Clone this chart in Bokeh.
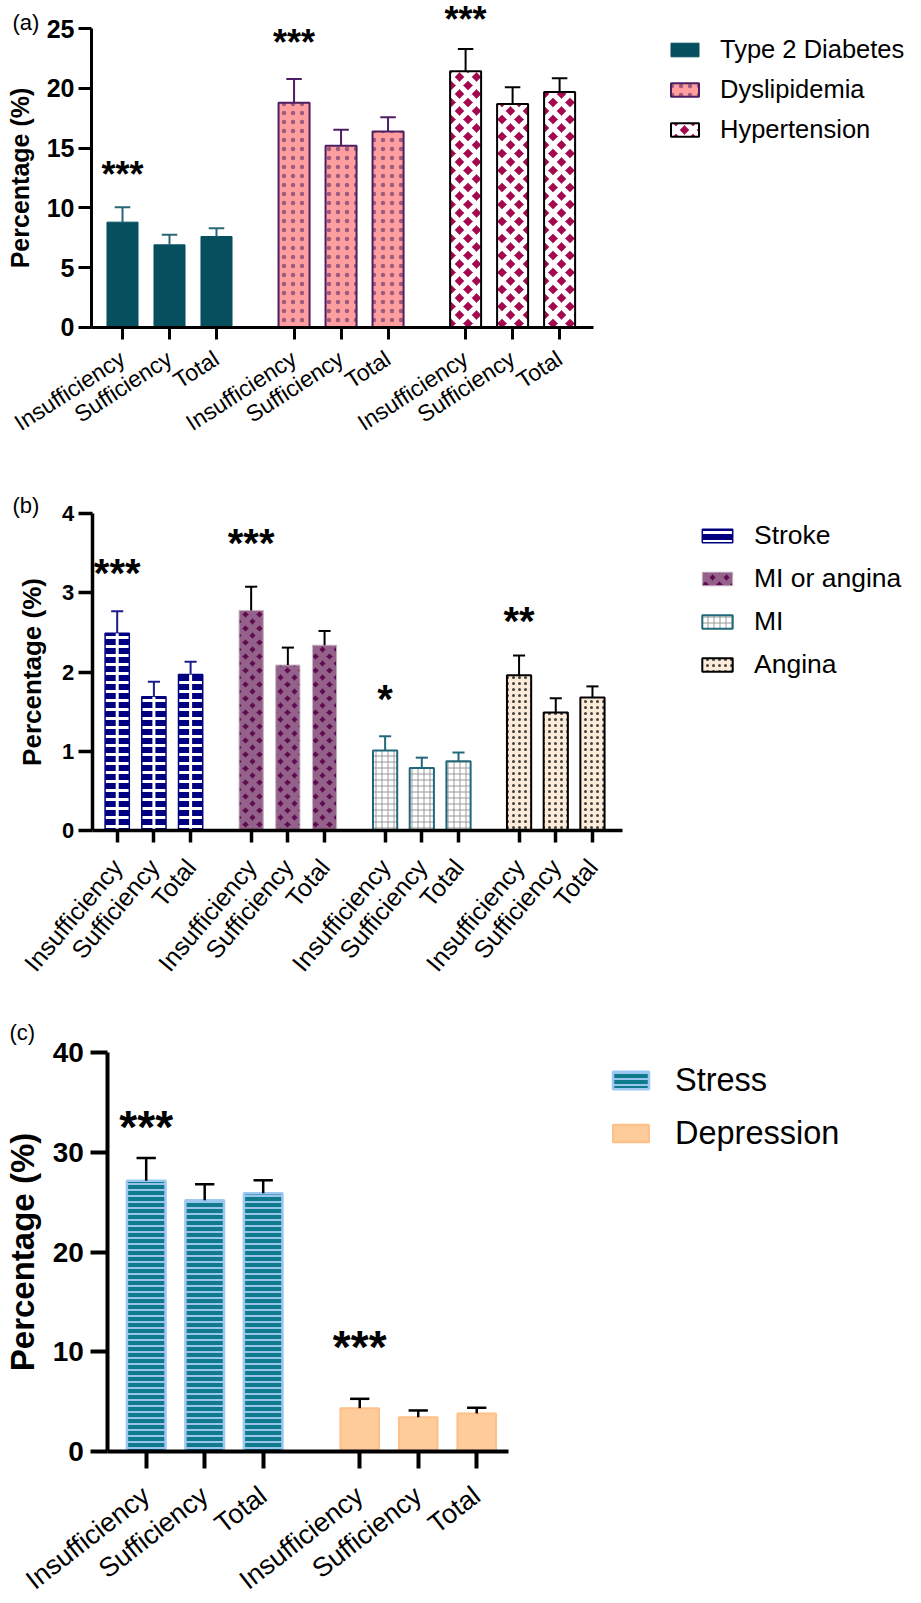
import math
from bokeh.plotting import figure
from bokeh.models import FixedTicker, Legend, LegendItem, Range1d, LinearAxis
from bokeh.layouts import column
from bokeh.embed import file_html
from bokeh.resources import INLINE
from bokeh.core.properties import value

FONT = "Liberation Sans"
LEVELS = ["Insufficiency", "Sufficiency", "Total"]

# ---------------- data: panel (a) ----------------
a_names = ["Type 2 Diabetes", "Dyslipidemia", "Hypertension"]
a_t2d = [8.8, 6.9, 7.6]
a_t2d_err = [1.25, 0.85, 0.70]
a_dys = [18.8, 15.2, 16.4]
a_dys_err = [2.0, 1.35, 1.2]
a_hyp = [21.45, 18.7, 19.7]
a_hyp_err = [1.85, 1.4, 1.15]
a_sig = ["***", "***", "***"]
a_sig_y = [13.1, 24.2, 26.1]
a_yticks = [0, 5, 10, 15, 20, 25]

# ---------------- data: panel (b) ----------------
b_names = ["Stroke", "MI or angina", "MI", "Angina"]
b_stroke = [2.49, 1.69, 1.97]
b_stroke_err = [0.28, 0.19, 0.16]
b_mia = [2.78, 2.09, 2.34]
b_mia_err = [0.30, 0.22, 0.18]
b_mi = [1.01, 0.79, 0.875]
b_mi_err = [0.18, 0.13, 0.11]
b_ang = [1.96, 1.49, 1.68]
b_ang_err = [0.25, 0.18, 0.14]
b_sig = ["***", "***", "*", "**"]
b_sig_y = [3.32, 3.70, 1.73, 2.71]
b_yticks = [0, 1, 2, 3, 4]

# ---------------- data: panel (c) ----------------
c_names = ["Stress", "Depression"]
c_stress = [27.15, 25.2, 25.9]
c_stress_err = [2.3, 1.6, 1.3]
c_dep = [4.32, 3.41, 3.79]
c_dep_err = [0.94, 0.68, 0.57]
c_sig = ["***", "***"]
c_sig_y = [33.2, 11.04]
c_yticks = [0, 10, 20, 30, 40]

# ---------------- styles ----------------
STYLE = {
    "Type 2 Diabetes": dict(fill_color="#064F5F", line_color="#064F5F", line_width=1, err="#2B6675"),
    "Dyslipidemia": dict(fill_color="#FF9E9E", line_color="#4E1E62", line_width=2,
                         hatch_pattern=".", hatch_color="#3B1A5A", hatch_scale=9, hatch_alpha=0.5,
                         err="#4E1E62"),
    "Hypertension": dict(fill_color="#A3084F", line_color="black", line_width=2,
                         hatch_pattern="x", hatch_color="white", hatch_scale=17, hatch_weight=5.2,
                         err="black"),
    "Stroke": dict(fill_color="#000080", line_color="#000080", line_width=1.5,
                   hatch_pattern="-", hatch_color="white", hatch_scale=9, hatch_weight=3,
                   err="#1B1B8C", center="white"),
    "MI or angina": dict(fill_color="#5E0B50", line_color="#CDBFCB", line_width=1,
                         hatch_pattern="x", hatch_color="#936189", hatch_scale=14, hatch_weight=5.5,
                         err="black"),
    "MI": dict(fill_color="white", line_color="#21697A", line_width=2,
               hatch_pattern="+", hatch_color="#9A9A9A", hatch_scale=6, hatch_weight=1,
               err="#21697A"),
    "Angina": dict(fill_color="#FCEBD9", line_color="black", line_width=2,
                   hatch_pattern=".", hatch_color="#222222", hatch_scale=6, hatch_alpha=0.85,
                   err="black"),
    "Stress": dict(fill_color="#0F7B8B", line_color="#9CC8F2", line_width=2.5,
                   hatch_pattern="-", hatch_color="#97C5F0", hatch_scale=6, hatch_weight=2,
                   err="black"),
    "Depression": dict(fill_color="#FECC9B", line_color="#FDC088", line_width=2, err="black"),
}

GROUP_STEP = 3.65
BAR_W = 0.66
W = 913


def build(tag, names, vals, errs, sig, sig_y, yticks, geo):
    h = geo["h"]
    xpx, ypx = geo["xpx"], geo["ypx"]
    x_start = -geo["tick0"] / xpx
    x_end = x_start + W / xpx
    y_end = geo["y0"] / ypx
    y_start = -(h - geo["y0"]) / ypx
    yax_loc = (geo["yax"] - geo["tick0"]) / xpx

    p = figure(width=W, height=h, output_backend="svg", toolbar_location=None,
               x_range=Range1d(x_start, x_end), y_range=Range1d(y_start, y_end),
               x_axis_location=None, y_axis_location=None,
               min_border=0, min_border_left=0, min_border_right=0,
               min_border_top=0, min_border_bottom=0)
    p.grid.visible = False
    p.outline_line_color = None
    p.background_fill_color = "white"
    p.border_fill_color = "white"

    ticks = []
    overrides = {}
    items = []
    for g, name in enumerate(names):
        st = STYLE[name]
        xs = [g * GROUP_STEP + i for i in range(len(LEVELS))]
        for x, lab in zip(xs, LEVELS):
            overrides[x] = lab
        ticks += xs
        v = vals[g]
        e = errs[g]
        kw = {k: st[k] for k in ("fill_color", "line_color", "line_width", "hatch_pattern",
                                 "hatch_color", "hatch_scale", "hatch_weight", "hatch_alpha") if k in st}
        r = p.vbar(x=xs, top=v, bottom=0, width=BAR_W, **kw)
        if "center" in st:
            p.segment(x0=xs, y0=[0] * len(xs), x1=xs, y1=v, line_color=st["center"], line_width=3)
        tops = [a + b for a, b in zip(v, e)]
        p.segment(x0=xs, y0=v, x1=xs, y1=tops, line_color=st["err"], line_width=geo["ew"])
        p.segment(x0=[x - BAR_W / 4 for x in xs], y0=tops, x1=[x + BAR_W / 4 for x in xs], y1=tops,
                  line_color=st["err"], line_width=geo["ew"])
        items.append(LegendItem(label=name, renderers=[r]))
        p.text(x=[xs[0]], y=[sig_y[g]], text=[sig[g]], text_align="center", text_baseline="middle",
               text_font=value(FONT), text_font_style="bold", text_font_size=f"{geo['sf']}px",
               text_color="black", y_offset=round(0.12 * geo["sf"]))

    # x axis (fixed at y = 0)
    xa = LinearAxis(fixed_location=0)
    xa.ticker = FixedTicker(ticks=ticks)
    xa.major_label_overrides = overrides
    xa.major_label_orientation = math.radians(geo["angle"])
    xa.bounds = (yax_loc, ticks[-1] + geo["rpad"] / xpx)
    xa.axis_line_width = geo["aw"]
    xa.major_tick_line_width = geo["aw"]
    xa.major_tick_out = geo["xto"]
    xa.major_tick_in = 0
    xa.minor_tick_line_color = None
    xa.major_label_text_font = FONT
    xa.major_label_text_font_size = f"{geo['cf']}px"
    xa.major_label_text_color = "black"
    xa.major_label_standoff = geo["xls"]
    p.add_layout(xa, "below")

    # y axis (fixed left of the first bar)
    ya = LinearAxis(fixed_location=yax_loc)
    ya.ticker = FixedTicker(ticks=yticks)
    ya.bounds = (yticks[0], yticks[-1])
    ya.axis_line_width = geo["aw"]
    ya.major_tick_line_width = geo["aw"]
    ya.major_tick_out = geo["yto"]
    ya.major_tick_in = 0
    ya.minor_tick_line_color = None
    ya.major_label_text_font = FONT
    ya.major_label_text_font_style = "bold"
    ya.major_label_text_font_size = f"{geo['tf']}px"
    ya.major_label_text_color = "black"
    ya.major_label_standoff = geo["yls"]
    ya.axis_label = "Percentage (%)"
    ya.axis_label_text_font = FONT
    ya.axis_label_text_font_style = "bold"
    ya.axis_label_text_font_size = f"{geo['lf']}px"
    ya.axis_label_text_color = "black"
    ya.axis_label_standoff = geo["als"]
    p.add_layout(ya, "left")

    gy_top = h - geo["leg_top"]
    n = len(items)
    leg_h = n * geo["lh"] + (n - 1) * geo["lsp"]
    leg = Legend(items=items, location=(geo["leg_x"], gy_top - leg_h),
                 glyph_width=geo["gw"], glyph_height=geo["gh"],
                 label_standoff=geo["lst"], spacing=geo["lsp"], padding=0, margin=0,
                 label_height=geo["lh"], label_text_font=FONT,
                 label_text_font_size=f"{geo['legf']}px", label_text_color="black",
                 border_line_alpha=0, background_fill_alpha=0)
    p.add_layout(leg)

    tx = x_start + geo["tag"][0] / xpx
    ty = y_end - geo["tag"][1] / ypx
    p.text(x=[tx], y=[ty], text=[tag], text_font=value(FONT), text_font_size="22px",
           text_color="black", text_baseline="middle", text_align="left")
    return p


geo_a = dict(h=488, yax=91, tick0=122, xpx=47.0, y0=326.7, ypx=11.936, rpad=34,
             aw=3, xto=12, yto=13, xls=17, yls=4, als=10, angle=33,
             tf=25, lf=25, cf=23, sf=36, ew=2,
             leg_x=667, leg_top=34, gw=35, gh=17, lst=18, lsp=10, lh=30, legf=25.5, tag=(12, 22))
geo_b = dict(h=512, yax=91.7, tick0=116.7, xpx=36.7, y0=342, ypx=79.18, rpad=30,
             aw=3.5, xto=12, yto=14, xls=20, yls=4, als=12, angle=50,
             tf=22, lf=26, cf=25, sf=40, ew=2,
             leg_x=698, leg_top=36, gw=38, gh=17, lst=18, lsp=12, lh=30, legf=26.5, tag=(12, 17))
geo_c = dict(h=600, yax=107.3, tick0=145.7, xpx=58.5, y0=450.7, ypx=9.96, rpad=32,
             aw=4, xto=17, yto=17, xls=24, yls=7, als=8, angle=38,
             tf=28, lf=33, cf=27, sf=46, ew=2.5,
             leg_x=608, leg_top=61, gw=45, gh=22, lst=22, lsp=15, lh=38, legf=32.5, tag=(9, 32))

pa = build("(a)", a_names, [a_t2d, a_dys, a_hyp], [a_t2d_err, a_dys_err, a_hyp_err],
           a_sig, a_sig_y, a_yticks, geo_a)
pb = build("(b)", b_names, [b_stroke, b_mia, b_mi, b_ang],
           [b_stroke_err, b_mia_err, b_mi_err, b_ang_err], b_sig, b_sig_y, b_yticks, geo_b)
pc = build("(c)", c_names, [c_stress, c_dep], [c_stress_err, c_dep_err],
           c_sig, c_sig_y, c_yticks, geo_c)

layout = column(pa, pb, pc, spacing=0)
open("out.html", "w").write(file_html(layout, INLINE))
